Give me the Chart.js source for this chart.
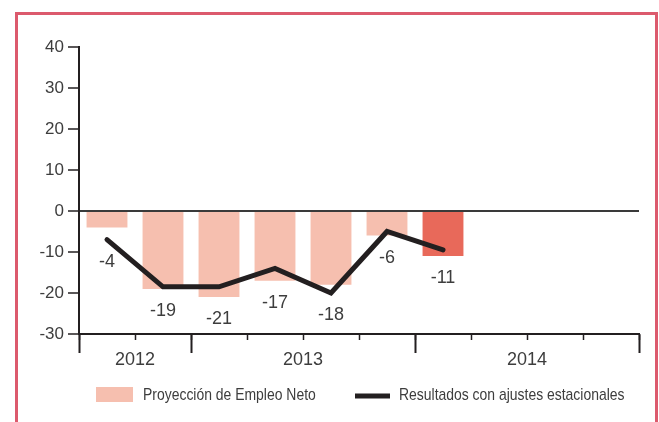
<!DOCTYPE html>
<html>
<head>
<meta charset="utf-8">
<script src="https://cdn.jsdelivr.net/npm/chart.js@4/dist/chart.umd.min.js"></script>
<style>
  body { margin: 0; background: #fff; overflow: hidden; }
  #wrap { position: relative; width: 659px; height: 422px; }
  #frame { position: absolute; left: 15px; top: 12px; width: 637px; height: 500px; border: 3px solid #dc5a6d; pointer-events: none; }
  canvas { position: absolute; left: 0; top: 0; }
</style>
</head>
<body>
<div id="wrap">
  <canvas id="myChart" width="659" height="422"></canvas>
  <div id="frame"></div>
</div>
<script>
// 10 quarter slots, 2012 Q3 .. 2014 Q4 (only the first 7 have values)
const quarters = ['2012 T3','2012 T4','2013 T1','2013 T2','2013 T3','2013 T4','2014 T1','2014 T2','2014 T3','2014 T4'];
const proyeccion = [-4, -19, -21, -17, -18, -6, -11];
const ajustados = [-7, -18.5, -18.5, -14, -20, -5, -9.5];
const yearTicks = [0, 1, 2, 4, 6, 8, 10];
const yearLabels = {1: '2012', 4: '2013', 8: '2014'};
const legendNames = ['Proyección de Empleo Neto', 'Resultados con ajustes estacionales'];

const ink = '#231f20';
const textCol = '#3d3d3d';
const barColors = proyeccion.map((v, i) => i === proyeccion.length - 1 ? '#e8695a' : '#f6bfaf');
const sans = "'Liberation Sans', Arial, sans-serif";

// value labels under each bar / line point
const valueLabels = {
    id: 'valueLabels',
    afterDatasetsDraw: (chart) => {
        const {ctx} = chart;
        const bars = chart.getDatasetMeta(0).data;
        const pts = chart.getDatasetMeta(1).data;
        ctx.save();
        ctx.font = '18px ' + sans;
        ctx.fillStyle = textCol;
        ctx.textAlign = 'center';
        ctx.textBaseline = 'middle';
        proyeccion.forEach((v, i) => {
            const low = Math.max(bars[i].y, pts[i] ? pts[i].y : 0);
            ctx.fillText(String(v), bars[i].x, low + 22);
        });
        ctx.restore();
    }
};

// condensed text: the original uses a narrow face, squeeze a normal one
function narrowText(ctx, txt, x, y) {
    ctx.save();
    ctx.translate(x, y);
    ctx.scale(0.82, 1);
    ctx.fillText(txt, 0, 0);
    ctx.restore();
}

// legend drawn under the axis
const bottomLegend = {
    id: 'bottomLegend',
    afterDraw: (chart) => {
        const {ctx} = chart;
        ctx.save();
        ctx.font = '17px ' + sans;
        ctx.textBaseline = 'middle';
        ctx.fillStyle = '#f6bfaf';
        ctx.fillRect(96, 387, 37, 15);
        ctx.fillStyle = textCol;
        narrowText(ctx, legendNames[0], 143, 395);
        ctx.strokeStyle = ink;
        ctx.lineWidth = 5;
        ctx.beginPath();
        ctx.moveTo(355, 396);
        ctx.lineTo(390, 396);
        ctx.stroke();
        narrowText(ctx, legendNames[1], 399, 395);
        ctx.restore();
    }
};

const config = {
    data: {
        labels: quarters,
        datasets: [{
            type: 'bar',
            label: legendNames[0],
            data: proyeccion,
            backgroundColor: barColors,
            borderWidth: 0,
            categoryPercentage: 1,
            barPercentage: 0.73,
            order: 2
        }, {
            type: 'line',
            label: legendNames[1],
            data: ajustados,
            borderColor: ink,
            borderWidth: 5,
            borderCapStyle: 'round',
            pointRadius: 0,
            tension: 0,
            fill: false,
            order: 1
        }]
    },
    options: {
        responsive: false,
        animation: false,
        layout: { padding: { top: 47, right: 20, left: 0, bottom: 0 } },
        plugins: { legend: { display: false }, tooltip: { enabled: false } },
        scales: {
            y: {
                min: -30,
                max: 40,
                ticks: {
                    stepSize: 10,
                    padding: 4,
                    color: textCol,
                    font: { family: sans, size: 17 }
                },
                grid: {
                    color: (c) => c.tick && c.tick.value === 0 ? '#3a3a3a' : 'rgba(0,0,0,0)',
                    lineWidth: 2,
                    tickColor: ink,
                    tickLength: 11,
                    tickWidth: 1.5
                },
                border: { display: true, color: ink, width: 2 },
                afterFit: (s) => { s.width = 79; }
            },
            x: {
                type: 'category',
                position: 'bottom',
                ticks: { display: false },
                grid: {
                    offset: true,
                    drawOnChartArea: false,
                    tickLength: 6,
                    tickColor: ink,
                    tickWidth: 1.5
                },
                border: { display: true, color: ink, width: 2 },
                afterFit: (s) => { s.height = 0; }
            },
            x2: {
                type: 'linear',
                axis: 'x',
                position: 'bottom',
                min: 0,
                max: 10,
                afterBuildTicks: (s) => { s.ticks = yearTicks.map(v => ({value: v})); },
                ticks: {
                    autoSkip: false,
                    maxRotation: 0,
                    padding: -4,
                    color: textCol,
                    font: { family: sans, size: 18 },
                    callback: (v) => yearLabels[v] || ''
                },
                grid: {
                    drawOnChartArea: false,
                    tickLength: 19,
                    tickWidth: 2,
                    tickColor: (c) => c.tick && yearLabels[c.tick.value] ? 'rgba(0,0,0,0)' : ink
                },
                border: { display: false },
                afterFit: (s) => { s.height = 88; }
            }
        }
    },
    plugins: [valueLabels, bottomLegend]
};

const myChart = new Chart(document.getElementById('myChart'), config);
</script>
</body>
</html>
